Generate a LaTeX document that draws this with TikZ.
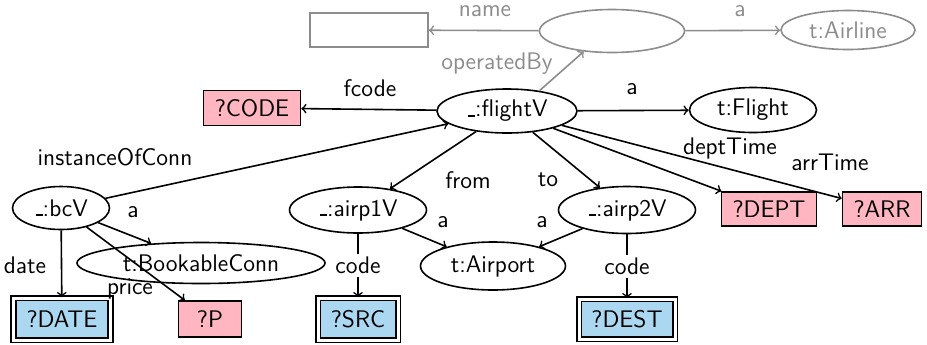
\documentclass[tikz,border=0pt]{standalone}
\usepackage{tikz}
\usetikzlibrary{shapes.geometric}   %ellipse nodes.

\definecolor{litpink}{RGB}{255,182,193}
\definecolor{selblue}{RGB}{171,216,240}
\definecolor{faded}{RGB}{140,140,140}

% short underscore for blank nodes
\newcommand{\bnus}{\leavevmode\kern.06em\vbox{\hrule width.3em height.9pt}}

\begin{document}
\begin{tikzpicture}[x=0.5pt,y=-0.5pt,thick,
  every node/.style={font=\sffamily\fontsize{12}{14}\selectfont},
  res/.style={ellipse,draw,inner sep=0pt},
  lit/.style={rectangle,draw,fill=litpink,inner sep=1pt},
  sel/.style={rectangle,draw,double,double distance=1.5pt,fill=selblue,inner sep=1pt}]

\useasboundingbox (0,0) rectangle (927,344);

% Faded part: the airline of the flight.
\node[rectangle,draw,color=faded,minimum width=59pt,minimum height=17pt] (airname) at (369,30) {};
\node[res,color=faded,minimum width=72.5pt,minimum height=21.5pt] (airlineV) at (612,31) {};
\node[res,color=faded,minimum width=67pt,minimum height=19.5pt] (airline) at (848,30) {t:Airline};

\draw[->,color=faded] (airlineV) -- (airname);
\draw[->,color=faded] (airlineV) -- (airline);

\node[color=faded] (lname) at (485,11) {name};
\node[color=faded] (la0) at (740,11) {a};
\node[color=faded] (lopby) at (497,64) {operatedBy};

% Flight and its values.
\node[res,minimum width=70pt,minimum height=22pt] (flightV) at (507,111) {\bnus:flightV};
\node[res,minimum width=63.5pt,minimum height=22.5pt] (flight) at (753,110) {t:Flight};
\node[lit,minimum width=48.5pt,minimum height=17.5pt] (fcode) at (252,108) {?CODE};
\node[lit,minimum width=47.5pt,minimum height=17pt] (dept) at (769,209) {?DEPT};
\node[lit,minimum width=39.5pt,minimum height=17pt] (arr) at (882,209) {?ARR};

\draw[->,color=faded] (flightV.32) -- (airlineV.216);
\draw[->] (flightV) -- (fcode);
\draw[->] (flightV) -- (flight);
\draw[->] (flightV) -- (dept);
\draw[->] (flightV) -- (arr);

\node (lfcode) at (370,88) {fcode};
\node (la1) at (632,89) {a};
\node (ldept) at (730,148) {deptTime};
\node (larr) at (830,162) {arrTime};

% Bookable connection.
\node[res,minimum width=48.5pt,minimum height=21.5pt] (bcV) at (61,208) {\bnus:bcV};
\node[res,minimum width=124pt,minimum height=20.5pt] (bconn) at (201,263) {t:BookableConn};
\node[sel,minimum width=48.5pt,minimum height=21pt] (date) at (62,319) {?DATE};
\node[lit,minimum width=31.5pt,minimum height=18pt] (price) at (210,319) {?P};

\draw[->] (bcV) -- (flightV);
\draw[->] (bcV) -- (bconn);
\draw[->] (bcV) -- (price);
\draw[->] (bcV) -- (date);

\node (linst) at (115,157) {instanceOfConn};
\node (la2) at (133,212) {a};
\node (ldate) at (25,265) {date};
\node (lprice) at (130,289) {price};

% Airports.
\node[res,minimum width=68.5pt,minimum height=23pt] (airp1V) at (358,210) {\bnus:airp1V};
\node[res,minimum width=68.5pt,minimum height=23.5pt] (airp2V) at (627,210) {\bnus:airp2V};
\node[res,minimum width=72.5pt,minimum height=24pt] (airport) at (493,266) {t:Airport};
\node[sel,minimum width=40pt,minimum height=21pt] (src) at (358,319) {?SRC};
\node[sel,minimum width=48pt,minimum height=20pt] (dest) at (627,319) {?DEST};

\draw[->] (flightV) -- (airp1V);
\draw[->] (flightV) -- (airp2V);
\draw[->] (airp1V) -- (airport);
\draw[->] (airp2V) -- (airport);
\draw[->] (airp1V) -- node[fill=white,inner sep=1.5pt] (lcode1) {code} (src);
\draw[->] (airp2V) -- node[fill=white,inner sep=1.5pt] (lcode2) {code} (dest);

\node (lfrom) at (468,180) {from};
\node (lto) at (548,180) {to};
\node (la3) at (443,222) {a};
\node (la4) at (542,222) {a};
\end{tikzpicture}
\end{document}
